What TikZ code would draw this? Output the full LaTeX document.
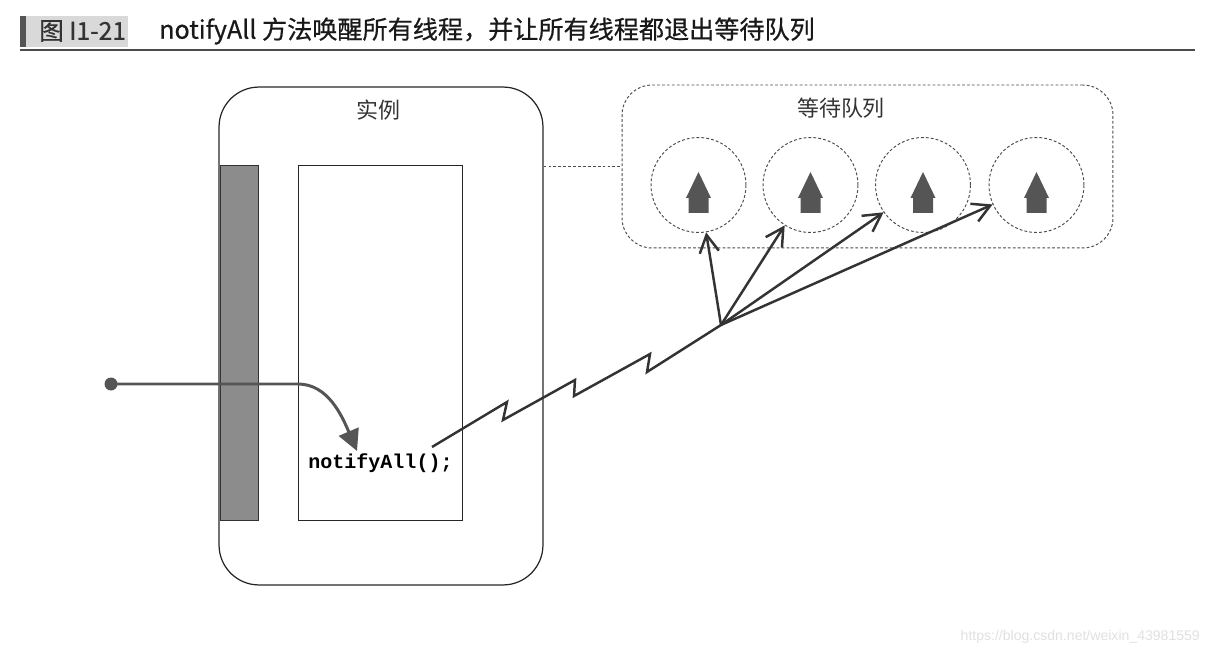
\documentclass[tikz,border=0pt]{standalone}
\usepackage{fontspec}
\setmainfont{Liberation Sans}
\setmonofont{Liberation Mono}
\newfontfamily\cjk{Noto Sans CJK SC}
\newfontfamily\cjkhead[FakeBold=0.6]{Noto Sans CJK SC}
\usetikzlibrary{arrows.meta, positioning, calc}
\usepackage{xcolor}
\definecolor{titlegray}{HTML}{D9D9D9}
\definecolor{bargray}{HTML}{8C8C8C}
\definecolor{ink}{HTML}{333333}
\definecolor{housegray}{HTML}{555555}

\begin{document}
\begin{tikzpicture}[x=0.02cm, y=-0.02cm,
  inst/.style={draw=black!85, line width=0.7pt, rounded corners=0.8cm, minimum width=6.48cm, minimum height=9.96cm},
  lockbar/.style={draw=black!80, fill=bargray, line width=0.5pt, minimum width=0.76cm, minimum height=7.1cm},
  panel/.style={draw=black!85, line width=0.5pt, minimum width=3.28cm, minimum height=7.1cm},
  queue/.style={draw=black!70, dashed, dash pattern=on 1.6pt off 1.2pt, line width=0.55pt, rounded corners=0.6cm, minimum width=9.82cm, minimum height=3.26cm},
  slot/.style={circle, draw=black!70, dashed, dash pattern=on 1.6pt off 1.2pt, line width=0.55pt, minimum size=1.9cm, inner sep=0pt},
  lbl/.style={font=\cjk\fontsize{12.5}{14}\selectfont, text=ink},
  code/.style={font=\ttfamily\bfseries\fontsize{11.4}{13}\selectfont, text=black, inner sep=0pt},
  flow/.style={draw=housegray, line width=1.7pt, -{Triangle[length=12pt, width=12pt]}},
  wake/.style={draw=ink, line width=1.4pt, -{Straight Barb[length=10pt, width=11pt, line width=1.4pt]}},
  zig/.style={draw=ink, line width=1.4pt, line join=miter},
  >=Latex
]
\useasboundingbox (0,0) rectangle (1214,655);

\fill[titlegray] (20,16) rectangle (128,47);
\fill[housegray] (20,16) rectangle (26,47);
\node[anchor=west, font=\cjkhead\fontsize{14}{16}\selectfont, text=ink] (fignum) at (33,31) {图 I1-21};
\node[anchor=west, font=\cjkhead\fontsize{14.3}{16}\selectfont, text=black!90] (title) at (153,31) {notifyAll 方法唤醒所有线程，并让所有线程都退出等待队列};
\draw[black!70, line width=1pt] (20,50) -- (1195,50);

\node[inst] (inst) at (381,336) {};
\node[lbl] (instlbl) at (378,110) {实例};
\node[lockbar] (bar) at (239,342.5) {};
\node[panel] (panel) at (380,342.5) {};
\node[code, anchor=west] (notify) at (308,463) {notifyAll();};

\node[queue] (queue) at (867.5,166.5) {};
\node[lbl] (queuelbl) at (841,108) {等待队列};
\foreach \i/\x in {1/698.5, 2/810.5, 3/923, 4/1036.5} {
  \node[slot] (s\i) at (\x,185) {};
  \fill[housegray] ($(s\i)+(0,-13)$) -- ++(12.5,26) -- ++(-2.5,0) -- ++(0,15) -- ++(-20,0) -- ++(0,-15) -- ++(-2.5,0) -- cycle;
}
\draw[dashed, dash pattern=on 1.6pt off 1.2pt, black!70, line width=0.55pt] (queue.west -| inst.east) -- (queue.west);

\fill[housegray] (111,384) circle (6.5);
\coordinate (dot) at (111,384);
\coordinate (tip) at (357,451);
\draw[flow] (dot) -- (298,384) .. controls (328,384) and (342,416) .. (tip);

\coordinate (zstart) at (432,447);
\coordinate (hub) at (721,325);
\draw[zig] (zstart) -- ++(75,-45) -- ++(-4,18) -- ++(72,-40) -- ++(-1,16) -- ++(76,-42) -- ++(-3,18) -- (hub);
\foreach \i in {1,...,4}
  \draw[wake] (hub) -- (s\i);

\node[anchor=east, font=\fontsize{8}{10}\selectfont, text=black!12] (mark) at (1206,637) {https://blog.csdn.net/weixin\_43981559};
\end{tikzpicture}
\end{document}
